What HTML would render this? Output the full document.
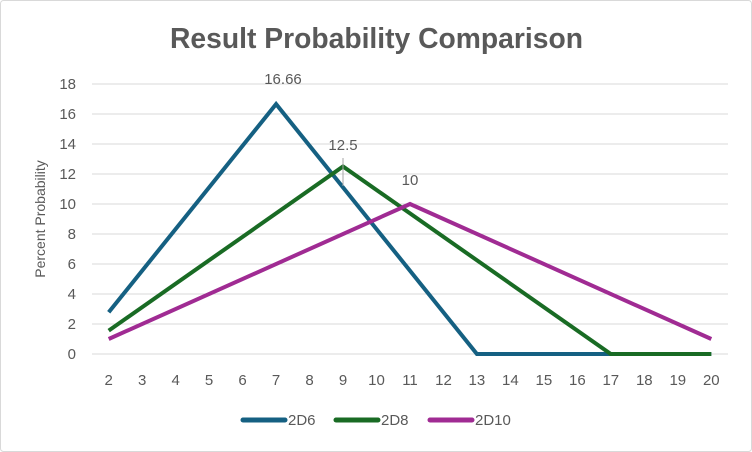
<!DOCTYPE html>
<html><head><meta charset="utf-8"><style>
html,body{margin:0;padding:0;background:#fff}
svg{display:block}
text{font-family:"Liberation Sans",sans-serif;fill:#595959}
</style></head><body>
<svg width="752" height="452" viewBox="0 0 752 452">
<rect x="0.5" y="0.5" width="751" height="451" fill="#fff" stroke="#d9d9d9" rx="3"/>
<text x="170" y="48" textLength="413" lengthAdjust="spacingAndGlyphs" style="font-family:'Liberation Sans Narrow','Liberation Sans',sans-serif;font-weight:bold;font-size:29px">Result Probability Comparison</text>
<g stroke="#d9d9d9" stroke-width="1">
<line x1="92" x2="728" y1="84" y2="84"/><line x1="92" x2="728" y1="114" y2="114"/>
<line x1="92" x2="728" y1="144" y2="144"/><line x1="92" x2="728" y1="174" y2="174"/>
<line x1="92" x2="728" y1="204" y2="204"/><line x1="92" x2="728" y1="234" y2="234"/>
<line x1="92" x2="728" y1="264" y2="264"/><line x1="92" x2="728" y1="294" y2="294"/>
<line x1="92" x2="728" y1="324" y2="324"/><line x1="92" x2="728" y1="354" y2="354"/>
</g>
<g font-size="15" text-anchor="end">
<text x="76" y="89">18</text><text x="76" y="119">16</text><text x="76" y="149">14</text>
<text x="76" y="179">12</text><text x="76" y="209">10</text><text x="76" y="239">8</text>
<text x="76" y="269">6</text><text x="76" y="299">4</text><text x="76" y="329">2</text>
<text x="76" y="359">0</text>
</g>
<g font-size="15" text-anchor="middle">
<text x="108.7" y="385">2</text><text x="142.2" y="385">3</text><text x="175.7" y="385">4</text>
<text x="209.1" y="385">5</text><text x="242.6" y="385">6</text><text x="276.1" y="385">7</text>
<text x="309.6" y="385">8</text><text x="343" y="385">9</text><text x="376.5" y="385">10</text>
<text x="410" y="385">11</text><text x="443.5" y="385">12</text><text x="476.9" y="385">13</text>
<text x="510.4" y="385">14</text><text x="543.9" y="385">15</text><text x="577.4" y="385">16</text>
<text x="610.8" y="385">17</text><text x="644.3" y="385">18</text><text x="677.8" y="385">19</text>
<text x="711.3" y="385">20</text>
</g>
<text transform="translate(45,219) rotate(-90)" font-size="14" text-anchor="middle">Percent Probability</text>
<g fill="none" stroke-width="4" stroke-linejoin="miter">
<polyline stroke="#156082" points="108.7,312.3 276.1,104.1 476.9,354 711.3,354"/>
<polyline stroke="#196B24" points="108.7,330.6 343,166.5 610.8,354 711.3,354"/>
<polyline stroke="#A02B93" points="108.7,339 410,204 711.3,339"/>
</g>
<line x1="343" y1="158" x2="343" y2="186" stroke="#a6a6a6" stroke-width="1"/>
<g font-size="15" text-anchor="middle">
<text x="283" y="84">16.66</text><text x="343" y="150">12.5</text><text x="410" y="185">10</text>
</g>
<g stroke-width="5" stroke-linecap="round">
<line x1="243" x2="285" y1="420" y2="420" stroke="#156082"/>
<line x1="336" x2="378" y1="420" y2="420" stroke="#196B24"/>
<line x1="430" x2="472" y1="420" y2="420" stroke="#A02B93"/>
</g>
<g font-size="15">
<text x="288" y="425">2D6</text><text x="381" y="425">2D8</text><text x="475" y="425">2D10</text>
</g>
</svg>
</body></html>
